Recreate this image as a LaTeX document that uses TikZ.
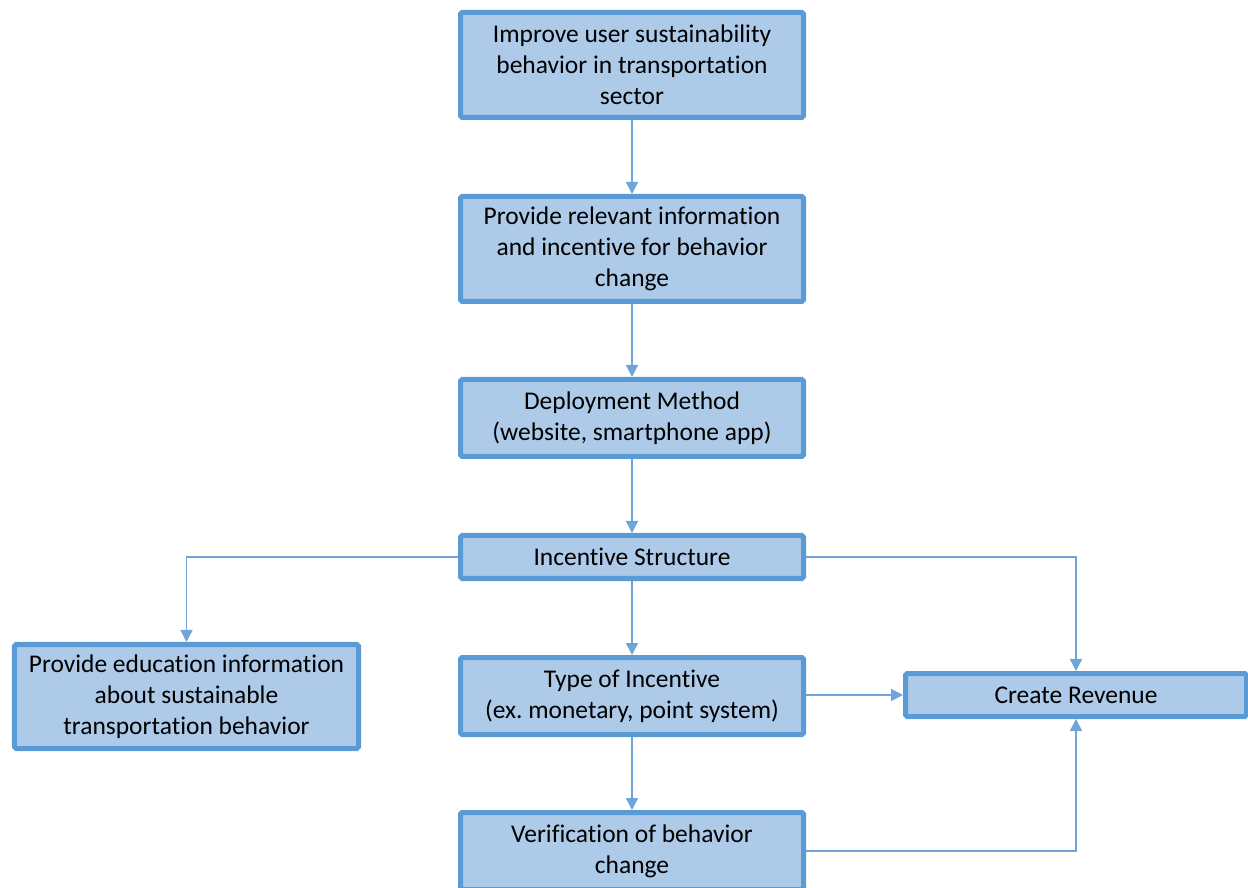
\documentclass[tikz,border=0pt]{standalone}
\usepackage{fontspec}
\setmainfont{Carlito}[Ligatures=NoCommon]
\usetikzlibrary{arrows.meta}

\definecolor{boxfill}{RGB}{173,203,233}
\definecolor{boxline}{RGB}{91,155,213}
\definecolor{linkline}{RGB}{110,165,218}

\begin{document}
\begin{tikzpicture}[>={Triangle[length=0.24cm,width=0.24cm]}]

% --- Global TikZ Styles ---
\tikzset{
    flowbox/.style={
        fill=boxfill,
        draw=boxline,
        line width=0.1cm,
        rounded corners=1pt,
        minimum width=6.86cm,
        inner sep=2pt,
        align=center,
        font=\fontsize{14.5}{17.6}\selectfont
    },
    link/.style={
        ->,
        draw=linkline,
        line width=0.85pt
    }
}

% Page frame
\useasboundingbox (0,0) rectangle (24.96,-17.76);

% ==================================================
% --- Main column ---
% ==================================================

\node[flowbox, minimum height=2.1cm] (goal) at (12.64,-1.30)
    {Improve user sustainability\\behavior in transportation\\sector};

\node[flowbox, minimum height=2.1cm] (info) at (12.64,-4.98)
    {Provide relevant information\\and incentive for behavior\\change};

\node[flowbox, minimum height=1.54cm] (deploy) at (12.64,-8.36)
    {Deployment Method\\(website, smartphone app)};

\node[flowbox, minimum height=0.86cm] (incent) at (12.64,-11.14)
    {Incentive Structure};

\node[flowbox, minimum height=1.54cm] (type) at (12.64,-13.92)
    {Type of Incentive\\(ex.\ monetary, point system)};

\node[flowbox, minimum height=1.54cm] (verify) at (12.64,-17.02)
    {Verification of behavior\\change};

% ==================================================
% --- Side boxes ---
% ==================================================

\node[flowbox, minimum width=6.88cm, minimum height=2.08cm] (edu) at (3.73,-13.93)
    {Provide education information\\about sustainable\\transportation behavior};

\node[flowbox, minimum width=6.82cm, minimum height=0.86cm] (rev) at (21.52,-13.90)
    {Create Revenue};

% ==================================================
% --- Connectors ---
% ==================================================

\draw[link] (goal) -- (info);
\draw[link] (info) -- (deploy);
\draw[link] (deploy) -- (incent);
\draw[link] (incent) -- (type);
\draw[link] (type) -- (verify);

% Branches of the incentive structure
\draw[link] (incent.west) -| (edu.north);
\draw[link] (incent.east) -| (rev.north);

% Into Create Revenue
\draw[link] (type.east |- rev.west) -- (rev.west);
\draw[link] (verify.east) -| (rev.south);

\end{tikzpicture}
\end{document}
